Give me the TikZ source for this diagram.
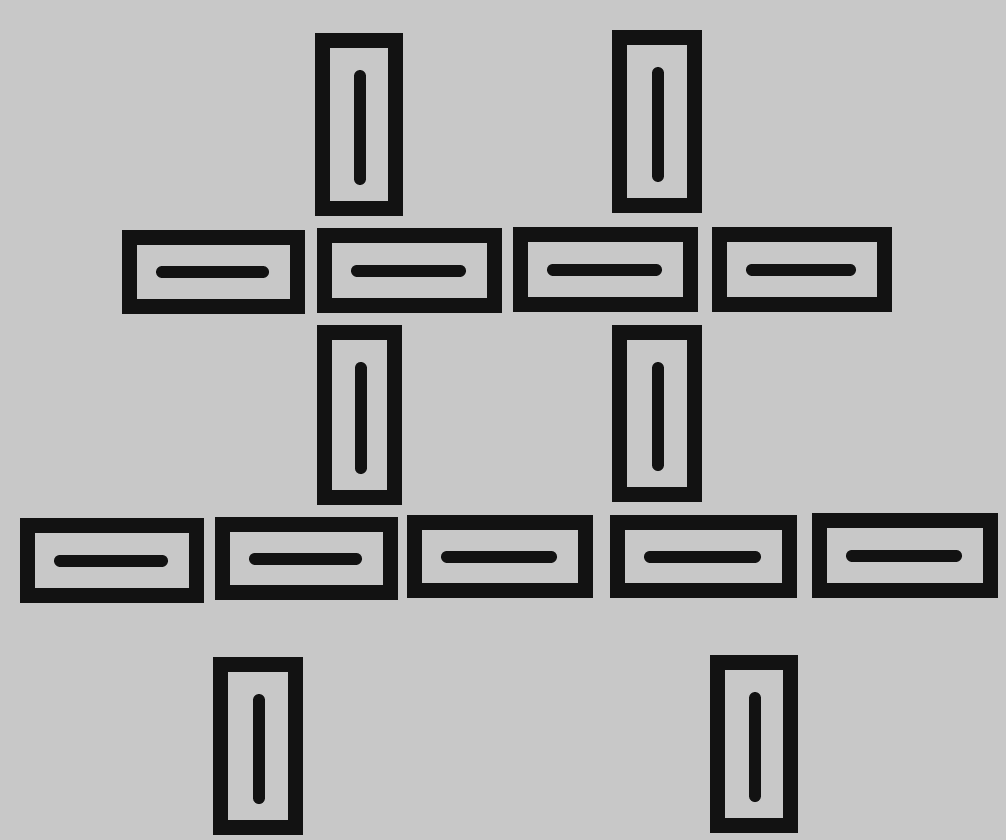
\documentclass[tikz,border=0pt]{standalone}
\definecolor{paper}{HTML}{C8C8C8}
\definecolor{ink}{HTML}{121212}
\tikzset{
  frame/.style={draw=ink, line width=15pt, line join=miter},
  bar/.style={draw=ink, line width=12pt, line cap=round}
}
% horizontal match box: x1 y1 x2 y2 (pixel coords, y downward)
\newcommand\matchh[4]{%
  \draw[frame] ({#1+7.5},{#2+7.5}) rectangle ({#3-7.5},{#4-7.5});
  \draw[bar] ({#1+40},{(#2+#4)/2}) -- ({#3-42},{(#2+#4)/2});
}
\newcommand\matchv[4]{%
  \draw[frame] ({#1+7.5},{#2+7.5}) rectangle ({#3-7.5},{#4-7.5});
  \draw[bar] ({(#1+#3)/2+1},{#2+43}) -- ({(#1+#3)/2+1},{#4-37});
}
\begin{document}
\begin{tikzpicture}[x=1pt,y=-1pt]
\fill[paper] (0,0) rectangle (1006,840);
\useasboundingbox (0,0) rectangle (1006,840);
% row 1
\matchv{315}{33}{403}{216}
\matchv{612}{30}{702}{213}
% row 2
\matchh{122}{230}{305}{314}
\matchh{317}{228}{502}{313}
\matchh{513}{227}{698}{312}
\matchh{712}{227}{892}{312}
% row 3
\matchv{317}{325}{402}{505}
\matchv{612}{325}{702}{502}
% row 4
\matchh{20}{518}{204}{603}
\matchh{215}{517}{398}{600}
\matchh{407}{515}{593}{598}
\matchh{610}{515}{797}{598}
\matchh{812}{513}{998}{598}
% row 5
\matchv{213}{657}{303}{835}
\matchv{710}{655}{798}{833}
\end{tikzpicture}
\end{document}
